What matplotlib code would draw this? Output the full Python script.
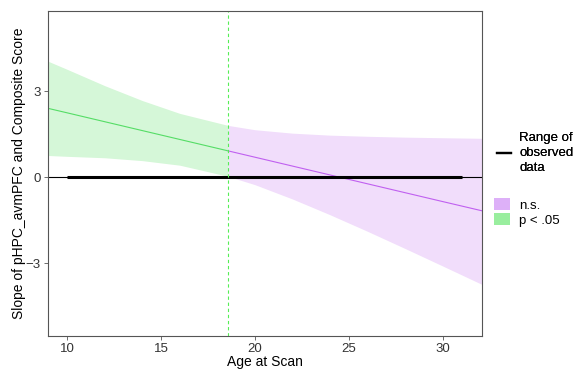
import numpy as np
import matplotlib.pyplot as plt
from matplotlib.lines import Line2D
from matplotlib.patches import Patch

plt.rcParams['font.family'] = ['Liberation Sans', 'DejaVu Sans']

# Datos (Johnson-Neyman)
edad = [8.96, 10, 12, 14, 16, 18.58, 20, 22, 24, 26, 28, 30, 32.08]
pendiente = [2.41, 2.25, 1.94, 1.63, 1.32, 0.92, 0.70, 0.39, 0.08, -0.23, -0.54, -0.85, -1.17]
ic_sup = [4.06, 3.77, 3.20, 2.68, 2.23, 1.81, 1.66, 1.54, 1.47, 1.43, 1.40, 1.38, 1.36]
ic_inf = [0.76, 0.73, 0.68, 0.58, 0.42, 0.03, -0.26, -0.76, -1.31, -1.89, -2.49, -3.10, -3.74]
limite_jn = 18.58
rango_obs = [10, 31.05]

verde_banda = '#d5f7d8'
verde_linea = '#55dd66'
morado_banda = '#f1ddfb'
morado_linea = '#c060f0'

edad = np.array(edad)
pendiente = np.array(pendiente)
ic_sup = np.array(ic_sup)
ic_inf = np.array(ic_inf)
sig = edad <= limite_jn
nosig = edad >= limite_jn

fig = plt.figure(figsize=(5.83, 3.69), dpi=100)
ax = fig.add_axes([0.0818, 0.0894, 0.7442, 0.8816])

ax.fill_between(edad[sig], ic_inf[sig], ic_sup[sig], color=verde_banda, lw=0)
ax.fill_between(edad[nosig], ic_inf[nosig], ic_sup[nosig], color=morado_banda, lw=0)
ax.plot(edad[sig], pendiente[sig], color=verde_linea, lw=0.8)
ax.plot(edad[nosig], pendiente[nosig], color=morado_linea, lw=0.8)

ax.axhline(0, color='black', lw=0.8)
ax.plot(rango_obs, [0, 0], color='black', lw=2.2, solid_capstyle='butt')
ax.axvline(limite_jn, color='#55ee55', lw=0.8, ls=(0, (3, 2.5)))

ax.set_xlim(8.96, 32.08)
ax.set_ylim(-5.55, 5.82)
ax.set_xticks([10, 15, 20, 25, 30])
ax.set_yticks([-3, 0, 3])
ax.set_yticklabels(['\u22123', '0', '3'])
for s in ax.spines.values():
    s.set_color('#555555')
    s.set_linewidth(0.8)
ax.tick_params(colors='#333333', labelsize=9.5, length=3, width=0.6, pad=2)
ax.tick_params(axis='both', color='#555555')
ax.set_xlabel('Age at Scan', fontsize=10, labelpad=0)
ax.set_ylabel('Slope of pHPC_avmPFC and Composite Score', fontsize=10, labelpad=0)

ley1 = fig.legend(handles=[Line2D([0], [0], color='black', lw=1.6)],
                  labels=['Range of\nobserved\ndata'],
                  loc='center left', bbox_to_anchor=(0.852, 0.585), frameon=False,
                  fontsize=9.5, handlelength=1.1, handletextpad=0.6,
                  borderaxespad=0, borderpad=0)
for t in ley1.get_texts():
    t.set_linespacing(1.35)
fig.add_artist(ley1)
fig.legend(handles=[Patch(color='#ddb0f8', lw=0), Patch(color='#99ee9e', lw=0)],
           labels=['n.s.', 'p < .05'],
           loc='center left', bbox_to_anchor=(0.847, 0.424), frameon=False,
           fontsize=9.5, handlelength=1.2, handleheight=1.0, handletextpad=0.7,
           labelspacing=0.12, borderaxespad=0, borderpad=0)

fig.savefig('out.png', dpi=100)
